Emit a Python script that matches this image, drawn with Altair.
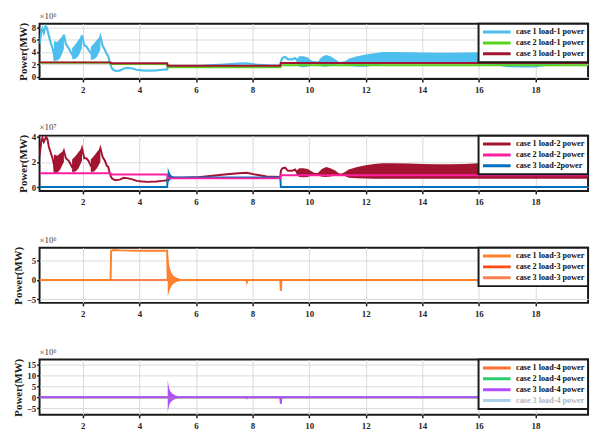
import altair as alt
import pandas as pd

# ---------------- shared x axis ----------------
X_DOMAIN = [0.47, 19.86]
X_TICKS = [2, 4, 6, 8, 10, 12, 14, 16, 18]

# ---------------- panel 1 : load-1 (x10^6) ----------------
p1_labels = ["case 1 load-1 power", "case 2 load-1 power", "case 3 load-1 power"]
p1_colors = ["#4DBEEE", "#5AD11B", "#A2142F"]
p1_yticks = [0, 2, 4, 6, 8]
p1_ydom = [-0.4, 8.6]

p1_c1_t = [0.47, 0.53, 0.57, 0.62, 0.68, 0.73, 0.8, 0.87, 0.93, 0.98, 1.0, 1.1, 1.2, 1.33, 1.4, 1.5, 1.62,
           1.75, 1.85, 1.97, 2.05, 2.12, 2.2, 2.28, 2.4, 2.5, 2.62, 2.7, 2.78, 2.85, 2.9, 2.95, 3.0, 3.05,
           3.15, 3.3, 3.45, 3.6, 3.75, 3.9, 4.1, 4.3, 4.6, 4.8, 4.98, 5.0, 5.5, 6.0, 6.5, 7.0, 7.5, 7.8,
           8.1, 8.5, 8.98, 9.0, 9.05, 9.15, 9.25, 9.4, 9.5, 9.6, 10.25, 11.1, 11.5, 12.5, 14.0, 16.0,
           18.0, 19.86]
p1_c1_v = [5.3, 7.2, 7.8, 7.1, 8.2, 7.9, 6.6, 5.4, 4.6, 3.6, 2.6, 3.8, 4.5, 6.8, 5.3, 4.6, 3.6,
           4.0, 4.6, 6.7, 5.1, 4.9, 4.4, 3.8, 4.1, 4.6, 6.5, 5.0, 4.3, 3.6, 3.3, 2.3, 1.6, 1.2,
           0.9, 0.95, 1.3, 1.4, 1.3, 1.1, 1.0, 0.95, 1.0, 1.1, 1.15, 1.65, 1.62, 1.65, 1.8, 1.95, 2.1, 2.15,
           1.95, 1.8, 1.75, 2.4, 3.0, 3.2, 2.8, 2.8, 3.0, 2.5, 2.3, 2.2, 2.5, 3.0, 3.0, 3.0,
           3.0, 2.8]
p1_c2_t = [0.47, 2.98, 3.0, 4.98, 5.0, 8.98, 9.0, 19.86]
p1_c2_v = [2.25, 2.25, 2.05, 2.05, 1.5, 1.5, 1.85, 1.85]
p1_c3_t = [0.47, 2.98, 3.0, 4.98, 5.0, 8.98, 9.0, 19.86]
p1_c3_v = [2.3, 2.3, 2.15, 2.15, 1.75, 1.75, 2.2, 2.2]

# oscillation envelopes of case 1 (upper / lower)
p1_b1_t = [0.98, 1.1, 1.2, 1.33]
p1_b1_hi = [5.8, 5.6, 6.2, 6.8]
p1_b1_lo = [2.6, 2.6, 3.0, 4.5]
p1_b2_t = [1.62, 1.75, 1.85, 1.97]
p1_b2_hi = [4.6, 5.3, 6.0, 6.7]
p1_b2_lo = [2.8, 2.9, 3.4, 4.6]
p1_b3_t = [2.28, 2.4, 2.5, 2.62]
p1_b3_hi = [4.8, 5.4, 6.0, 6.5]
p1_b3_lo = [2.7, 2.8, 3.2, 4.4]
p1_b4_t = [9.55, 9.65, 9.8, 9.95, 10.05, 10.2]
p1_b4_hi = [2.8, 3.3, 3.3, 3.1, 2.7, 2.4]
p1_b4_lo = [2.2, 1.6, 1.5, 1.6, 1.9, 2.2]
p1_b5_t = [10.3, 10.45, 10.6, 10.75, 10.9, 11.05]
p1_b5_hi = [2.4, 3.2, 3.5, 3.3, 2.9, 2.4]
p1_b5_lo = [2.0, 1.6, 1.6, 1.7, 1.8, 2.1]
p1_b6_t = [11.2, 11.4, 11.7, 12.0, 12.3, 12.6, 13.0, 13.5, 14.0, 14.5, 15.0, 15.5, 16.0, 16.5, 17.0,
           17.5, 18.0, 18.5, 19.0, 19.5, 19.86]
p1_b6_hi = [2.3, 2.9, 3.3, 3.6, 3.8, 4.0, 4.0, 3.95, 3.9, 3.85, 3.85, 3.9, 3.95, 4.0, 4.0,
            4.0, 4.0, 3.9, 3.8, 3.7, 3.6]
p1_b6_lo = [2.0, 1.7, 1.6, 1.6, 1.8, 2.0, 2.05, 2.05, 2.05, 2.05, 2.05, 2.05, 2.0, 1.9, 1.5,
            1.45, 1.45, 1.8, 2.0, 2.0, 2.0]

# ---------------- panel 2 : load-2 (x10^7) ----------------
p2_labels = ["case 1 load-2 power", "case 2 load-2 power", "case 3 load-2power"]
p2_colors = ["#A2142F", "#FF1FA0", "#0072BD"]
p2_yticks = [0, 2, 4]
p2_ydom = [-0.3, 4.1]

p2_c1_t = [0.47, 0.53, 0.57, 0.62, 0.7, 0.75, 0.8, 0.87, 0.93, 0.98, 1.0, 1.1, 1.2, 1.33, 1.4, 1.5, 1.62,
           1.75, 1.85, 1.97, 2.05, 2.12, 2.2, 2.28, 2.4, 2.5, 2.62, 2.7, 2.78, 2.85, 2.9, 2.95, 3.0, 3.05,
           3.15, 3.3, 3.45, 3.6, 3.75, 3.9, 4.1, 4.3, 4.6, 4.8, 4.98, 5.0, 5.5, 6.0, 6.5, 7.0, 7.5, 7.8,
           8.1, 8.5, 8.98, 9.0, 9.05, 9.15, 9.25, 9.4, 9.5, 9.6, 10.25, 11.1, 11.5, 12.5, 14.0, 16.0,
           18.0, 19.86]
p2_c1_v = [2.5, 3.6, 3.9, 3.6, 4.0, 3.8, 3.2, 2.7, 2.3, 1.8, 1.2, 1.7, 2.1, 2.9, 2.3, 2.1, 1.6,
           1.9, 2.2, 3.1, 2.3, 2.3, 2.1, 1.7, 1.9, 2.2, 3.1, 2.4, 2.1, 1.7, 1.6, 1.1, 0.8, 0.65,
           0.55, 0.6, 0.75, 0.7, 0.62, 0.5, 0.45, 0.42, 0.45, 0.5, 0.55, 0.75, 0.75, 0.78, 0.88, 1.0, 1.1, 1.15,
           1.0, 0.85, 0.8, 1.3, 1.5, 1.55, 1.3, 1.3, 1.4, 1.1, 1.05, 1.0, 1.2, 1.3, 1.3, 1.3,
           1.3, 1.2]
p2_c2_t = [0.47, 2.98, 3.0, 4.98, 5.0, 8.98, 9.0, 19.86]
p2_c2_v = [1.1, 1.1, 1.0, 1.0, 0.7, 0.7, 0.95, 0.95]
p2_c3_t = [0.47, 4.98, 5.0, 5.3, 8.98, 9.0, 19.86]
p2_c3_v = [0.02, 0.02, 0.75, 0.76, 0.76, 0.02, 0.02]

p2_b1_t = [0.98, 1.1, 1.2, 1.33]
p2_b1_hi = [2.6, 2.5, 2.7, 2.9]
p2_b1_lo = [1.15, 1.15, 1.4, 2.0]
p2_b2_t = [1.62, 1.75, 1.85, 1.97]
p2_b2_hi = [2.2, 2.5, 2.8, 3.1]
p2_b2_lo = [1.2, 1.25, 1.5, 2.1]
p2_b3_t = [2.28, 2.4, 2.5, 2.62]
p2_b3_hi = [2.2, 2.5, 2.8, 3.1]
p2_b3_lo = [1.2, 1.25, 1.5, 2.0]
p2_b4_t = [9.55, 9.65, 9.8, 9.95, 10.05, 10.2]
p2_b4_hi = [1.3, 1.5, 1.5, 1.45, 1.3, 1.1]
p2_b4_lo = [1.0, 0.8, 0.78, 0.8, 0.9, 1.0]
p2_b5_t = [10.3, 10.45, 10.6, 10.75, 10.9, 11.05]
p2_b5_hi = [1.1, 1.45, 1.6, 1.5, 1.35, 1.1]
p2_b5_lo = [0.95, 0.82, 0.8, 0.85, 0.9, 1.0]
p2_b6_t = p1_b6_t
p2_b6_hi = [1.1, 1.4, 1.6, 1.75, 1.85, 1.9, 1.9, 1.88, 1.85, 1.83, 1.83, 1.85, 1.9, 1.95, 1.95,
            1.95, 1.95, 1.9, 1.85, 1.8, 1.75]
p2_b6_lo = [0.95, 0.75, 0.7, 0.68, 0.66, 0.66, 0.66, 0.66, 0.66, 0.66, 0.66, 0.66, 0.66, 0.66, 0.66,
            0.66, 0.66, 0.66, 0.66, 0.66, 0.66]
# case 3 ring at t = 5 s
p2_b7_t = [5.0, 5.04, 5.1, 5.18, 5.3]
p2_b7_hi = [1.6, 1.3, 1.0, 0.85, 0.78]
p2_b7_lo = [0.3, 0.45, 0.6, 0.7, 0.75]

# ---------------- panel 3 : load-3 (x10^6) ----------------
p3_labels = ["case 1 load-3 power", "case 2 load-3 power", "case 3 load-3 power"]
p3_colors = ["#FF7F2A", "#FF4A10", "#FF7F50"]
p3_yticks = [-5, 0, 5]
p3_ydom = [-5.9, 8.3]

p3_c1_t = [0.47, 2.98, 3.0, 3.1, 3.3, 4.0, 4.98, 5.0, 5.6, 7.78, 7.8, 7.82, 8.98, 9.0, 9.02, 19.86]
p3_c1_v = [0, 0, 7.5, 7.7, 7.6, 7.5, 7.5, 0, 0, 0, -0.5, 0, 0, -2.8, 0, 0]
p3_c2_t = [0.47, 19.86]
p3_c2_v = [0, 0]
p3_c3_t = [0.47, 19.86]
p3_c3_v = [0, 0]
p3_b1_t = [5.0, 5.03, 5.07, 5.12, 5.2, 5.3, 5.45, 5.6]
p3_b1_hi = [7.5, 5.0, 3.2, 2.0, 1.1, 0.6, 0.25, 0.05]
p3_b1_lo = [-4.0, -3.5, -2.6, -1.7, -1.0, -0.5, -0.2, -0.05]

# ---------------- panel 4 : load-4 (x10^6) ----------------
p4_labels = ["case 1 load-4 power", "case 2 load-4 power", "case 3 load-4 power", "case 3 load-4 power (2)"]
p4_colors = ["#FF6F30", "#2ECC71", "#B44CFF", "#A9CFEA"]
p4_yticks = [-5, 0, 5, 10, 15]
p4_ydom = [-8.0, 17.1]

p4_c1_t = [0.47, 19.86]
p4_c1_v = [0, 0]
p4_c2_t = [0.47, 19.86]
p4_c2_v = [0, 0]
p4_c3_t = [0.47, 4.98, 5.0, 5.7, 7.78, 7.8, 7.82, 8.98, 9.0, 9.02, 19.86]
p4_c3_v = [0, 0, 0, 0, 0, -0.3, 0, 0, -3.0, 0, 0]
p4_c4_t = [0.47, 19.86]
p4_c4_v = [0, 0]
p4_b1_t = [5.0, 5.02, 5.05, 5.1, 5.18, 5.28, 5.4, 5.55, 5.7]
p4_b1_hi = [8.0, 6.0, 4.0, 2.5, 1.5, 0.8, 0.4, 0.15, 0.05]
p4_b1_lo = [-7.2, -5.5, -3.8, -2.3, -1.4, -0.7, -0.35, -0.12, -0.04]

FONT = "Liberation Serif"


def line_df(t, v, s):
    return pd.DataFrame({"t": t, "v": v, "s": s})


def band_df(parts, s):
    frames = []
    for i, (t, hi, lo) in enumerate(parts):
        frames.append(pd.DataFrame({"t": t, "hi": hi, "lo": lo, "s": s, "g": i}))
    return pd.concat(frames, ignore_index=True)


def panel(lines, bands, labels, colors, ydom, yticks, exp_text, gray_key=None):
    xs = alt.X("t:Q", scale=alt.Scale(domain=X_DOMAIN, nice=False, zero=False),
               axis=alt.Axis(values=X_TICKS, title=None, labelPadding=4, format="d"))
    yscale = alt.Scale(domain=ydom, nice=False, zero=False)
    yaxis = alt.Axis(values=yticks, title="Power(MW)", labelPadding=1, format="d")
    leg_kwargs = dict(title=None, orient="top-right", offset=0,
                      labelExpr="replace(datum.label, ' (2)', '')")
    if gray_key is not None:
        leg_kwargs["labelColor"] = alt.ExprRef(
            expr="datum.value === '%s' ? '#b5b5b5' : '#111111'" % gray_key)
    color = alt.Color("s:N", scale=alt.Scale(domain=labels, range=colors),
                      legend=alt.Legend(**leg_kwargs))
    layers = []
    for bdf in bands:
        layers.append(
            alt.Chart(bdf).mark_area(clip=True, opacity=1).encode(
                x=xs, y=alt.Y("hi:Q", scale=yscale, axis=yaxis), y2="lo:Q",
                color=color, detail="g:N")
        )
    for ldf, sw in lines:
        layers.append(
            alt.Chart(ldf).mark_line(clip=True, strokeWidth=sw).encode(
                x=xs, y=alt.Y("v:Q", scale=yscale, axis=yaxis), color=color)
        )
    return alt.layer(*layers).properties(
        width=556, height=56,
        title=alt.Title(exp_text, anchor="start", frame="group", fontSize=9, font=FONT,
                        fontWeight="normal", color="#333333", offset=1))


ch1 = panel(
    lines=[(line_df(p1_c1_t, p1_c1_v, p1_labels[0]), 2.2),
           (line_df(p1_c2_t, p1_c2_v, p1_labels[1]), 2),
           (line_df(p1_c3_t, p1_c3_v, p1_labels[2]), 2)],
    bands=[band_df([(p1_b1_t, p1_b1_hi, p1_b1_lo), (p1_b2_t, p1_b2_hi, p1_b2_lo),
                    (p1_b3_t, p1_b3_hi, p1_b3_lo), (p1_b4_t, p1_b4_hi, p1_b4_lo),
                    (p1_b5_t, p1_b5_hi, p1_b5_lo), (p1_b6_t, p1_b6_hi, p1_b6_lo)], p1_labels[0])],
    labels=p1_labels, colors=p1_colors, ydom=p1_ydom, yticks=p1_yticks, exp_text="×10⁶")

ch2 = panel(
    lines=[(line_df(p2_c1_t, p2_c1_v, p2_labels[0]), 2),
           (line_df(p2_c3_t, p2_c3_v, p2_labels[2]), 2),
           (line_df(p2_c2_t, p2_c2_v, p2_labels[1]), 2)],
    bands=[band_df([(p2_b1_t, p2_b1_hi, p2_b1_lo), (p2_b2_t, p2_b2_hi, p2_b2_lo),
                    (p2_b3_t, p2_b3_hi, p2_b3_lo), (p2_b4_t, p2_b4_hi, p2_b4_lo),
                    (p2_b5_t, p2_b5_hi, p2_b5_lo), (p2_b6_t, p2_b6_hi, p2_b6_lo)], p2_labels[0]),
           band_df([(p2_b7_t, p2_b7_hi, p2_b7_lo)], p2_labels[2])],
    labels=p2_labels, colors=p2_colors, ydom=p2_ydom, yticks=p2_yticks, exp_text="×10⁷")

ch3 = panel(
    lines=[(line_df(p3_c2_t, p3_c2_v, p3_labels[1]), 2),
           (line_df(p3_c3_t, p3_c3_v, p3_labels[2]), 2),
           (line_df(p3_c1_t, p3_c1_v, p3_labels[0]), 2)],
    bands=[band_df([(p3_b1_t, p3_b1_hi, p3_b1_lo)], p3_labels[0])],
    labels=p3_labels, colors=p3_colors, ydom=p3_ydom, yticks=p3_yticks, exp_text="×10⁶")

ch4 = panel(
    lines=[(line_df(p4_c4_t, p4_c4_v, p4_labels[3]), 2),
           (line_df(p4_c1_t, p4_c1_v, p4_labels[0]), 2),
           (line_df(p4_c2_t, p4_c2_v, p4_labels[1]), 2),
           (line_df(p4_c3_t, p4_c3_v, p4_labels[2]), 2)],
    bands=[band_df([(p4_b1_t, p4_b1_hi, p4_b1_lo)], p4_labels[2])],
    labels=p4_labels, colors=p4_colors, ydom=p4_ydom, yticks=p4_yticks, exp_text="×10⁶",
    gray_key=p4_labels[3])

chart = alt.vconcat(ch1, ch2, ch3, ch4, spacing=57.5, bounds="flush").resolve_scale(
    color="independent", y="independent"
).resolve_legend(color="independent").properties(
    padding={"left": 3, "top": 0, "right": 2, "bottom": 0}
).configure_view(
    stroke="#1a1a1a", strokeWidth=2
).configure_axis(
    domain=False, grid=True, gridColor="#d9d9d9", gridWidth=1,
    tickColor="#1a1a1a", tickSize=3, tickWidth=1.5,
    labelFont=FONT, labelFontWeight="bold", labelFontSize=9, labelColor="#262626",
    titleFont=FONT, titleFontWeight="bold", titleFontSize=11, titleColor="#1a1a1a", titlePadding=3
).configure_legend(
    strokeColor="#1a1a1a", strokeWidth=2, fillColor="white", padding=3, cornerRadius=0,
    symbolType="stroke", symbolSize=784, symbolStrokeWidth=3, clipHeight=11,
    labelFont=FONT, labelFontWeight="bold", labelFontSize=8.3, labelColor="#111111",
    labelOffset=4, rowPadding=0, labelLimit=200
)

chart.save("out.html", embed_options={"renderer": "svg", "actions": False})
